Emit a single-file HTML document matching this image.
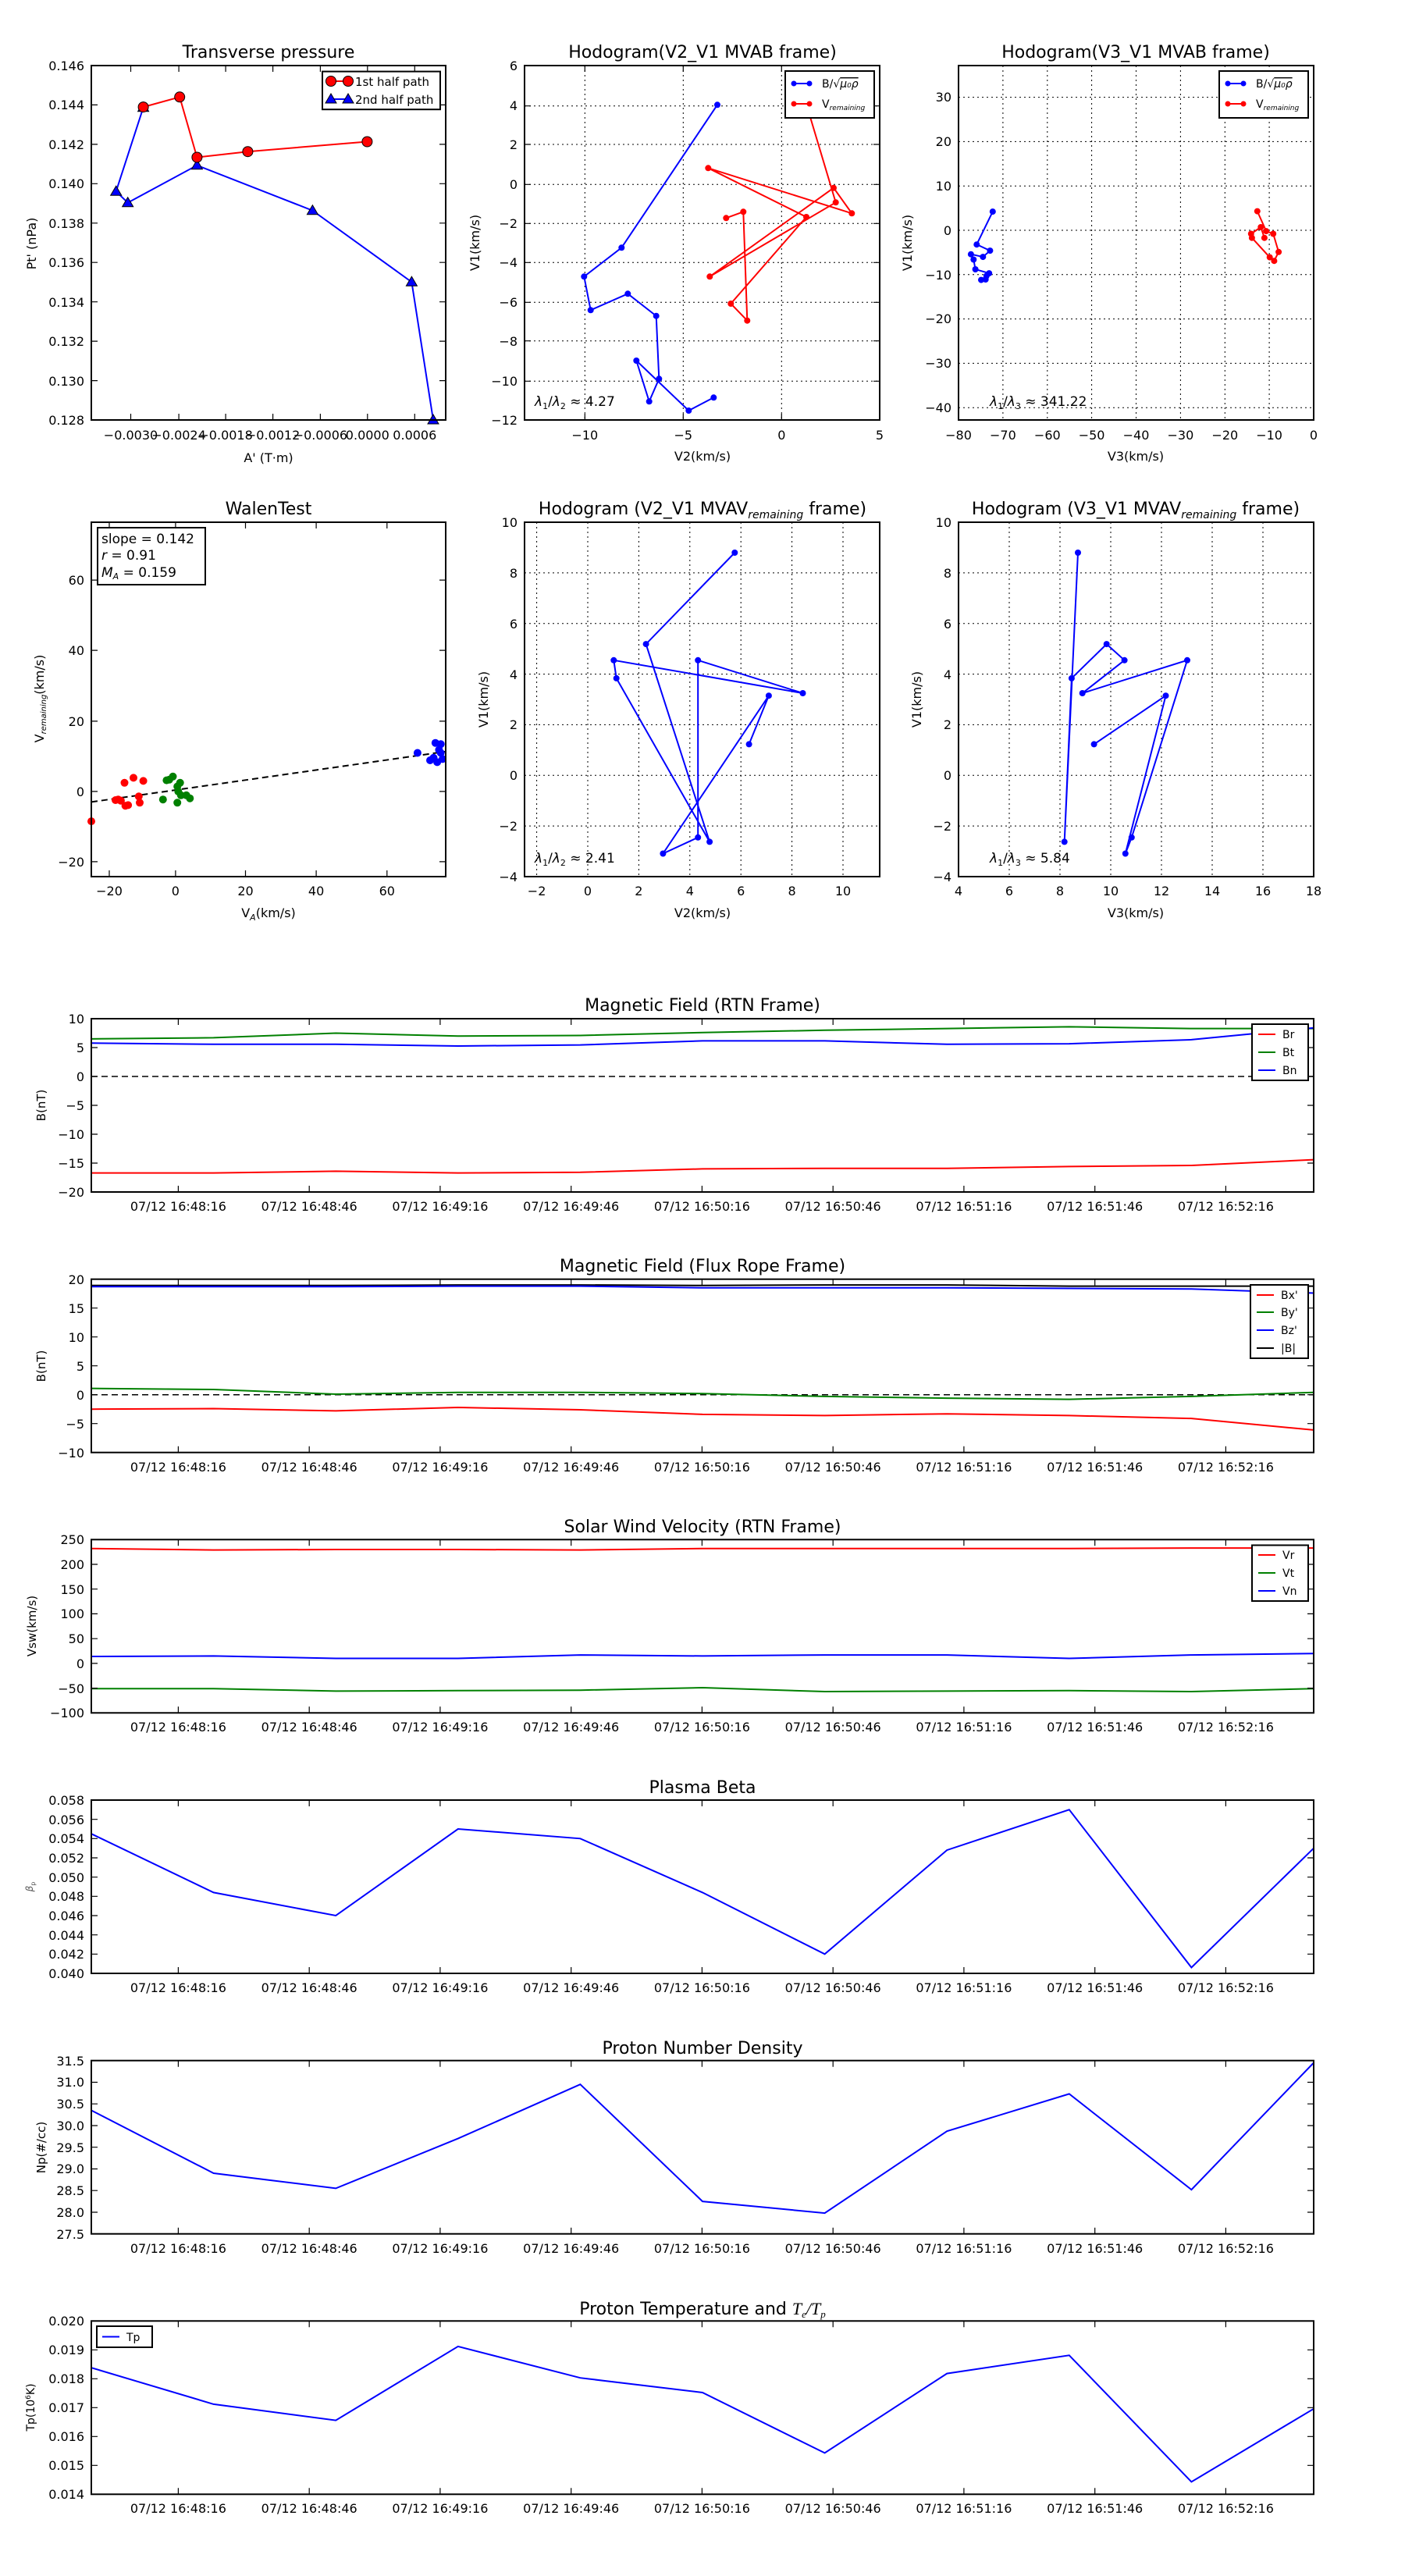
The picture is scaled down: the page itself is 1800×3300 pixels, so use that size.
<!DOCTYPE html>
<html><head><meta charset="utf-8"><style>
html,body{margin:0;padding:0;background:#fff}
svg{display:block}
text{font-family:"DejaVu Sans","Liberation Sans",sans-serif;fill:#000}
.t{font-size:22px;text-anchor:middle}
.k{font-size:16px}
.km{font-size:16px;text-anchor:middle}
.ke{font-size:16px;text-anchor:end}
.tl{font-size:16px;text-anchor:middle}
.ax{fill:none;stroke:#000;stroke-width:2}
.g{stroke:#000;stroke-width:1;stroke-dasharray:2,4;fill:none}
.tk{stroke:#000;stroke-width:1.2}
.ln{fill:none;stroke-width:2}
</style></head><body>
<svg width="1800" height="3300" viewBox="0 0 1800 3300" xmlns="http://www.w3.org/2000/svg">
<rect width="1800" height="3300" fill="#fff"/>

<text class="t" x="344" y="74">Transverse pressure</text>
<g class="tk">
<path d="M117 84.0h8M571 84.0h-8M117 134.4h8M571 134.4h-8M117 184.9h8M571 184.9h-8M117 235.3h8M571 235.3h-8M117 285.8h8M571 285.8h-8M117 336.2h8M571 336.2h-8M117 386.7h8M571 386.7h-8M117 437.1h8M571 437.1h-8M117 487.6h8M571 487.6h-8M117 538h8M571 538h-8"/>
<path d="M167.5 538v-8M167.5 84v8M229.1 538v-8M229.1 84v8M289.1 538v-8M289.1 84v8M349.6 538v-8M349.6 84v8M410.4 538v-8M410.4 84v8M470.8 538v-8M470.8 84v8M531.3 538v-8M531.3 84v8"/>
</g>
<g class="ke">
<text x="108" y="90">0.146</text><text x="108" y="140">0.144</text><text x="108" y="191">0.142</text><text x="108" y="241">0.140</text><text x="108" y="292">0.138</text><text x="108" y="342">0.136</text><text x="108" y="393">0.134</text><text x="108" y="443">0.132</text><text x="108" y="494">0.130</text><text x="108" y="544">0.128</text>
</g>
<g class="km">
<text x="167.5" y="563">−0.0030</text><text x="229.1" y="563">−0.0024</text><text x="289.1" y="563">−0.0018</text><text x="349.6" y="563">−0.0012</text><text x="410.4" y="563">−0.0006</text><text x="470.8" y="563">0.0000</text><text x="531.3" y="563">0.0006</text>
</g>
<text class="km" x="344" y="592">A' (T·m)</text>
<text class="km" transform="translate(46,312) rotate(-90)">Pt' (nPa)</text>
<polyline class="ln" stroke="#0000ff" points="183.6,137.7 148.7,245.2 163.7,259.7 252.4,211.8 400.4,269.7 527.4,361.3 555,538"/>
<polyline class="ln" stroke="#ff0000" points="183.6,137.1 230.2,124.3 252.4,201.5 317.4,194.2 470.4,181.5"/>
<g fill="#0000ff" stroke="#000" stroke-width="1">
<path d="M183.6,130.7l7,12h-14z"/><path d="M148.7,238.2l7,12h-14z"/><path d="M163.7,252.7l7,12h-14z"/><path d="M252.4,204.8l7,12h-14z"/><path d="M400.4,262.7l7,12h-14z"/><path d="M527.4,354.3l7,12h-14z"/><path d="M555,531l7,12h-14z"/>
</g>
<g fill="#ff0000" stroke="#000" stroke-width="1">
<circle cx="183.6" cy="137.1" r="6.5"/><circle cx="230.2" cy="124.3" r="6.5"/><circle cx="252.4" cy="201.5" r="6.5"/><circle cx="317.4" cy="194.2" r="6.5"/><circle cx="470.4" cy="181.5" r="6.5"/>
</g>
<rect x="117" y="84" width="454" height="454" class="ax"/>
<rect x="413" y="91.6" width="151" height="48.6" fill="#fff" stroke="#000" stroke-width="2"/>
<line x1="424" y1="104" x2="446" y2="104" stroke="#ff0000" stroke-width="2"/>
<circle cx="424" cy="104" r="6.5" fill="#f00" stroke="#000"/><circle cx="446" cy="104" r="6.5" fill="#f00" stroke="#000"/>
<text class="k" x="455" y="110" style="font-size:15px">1st half path</text>
<line x1="424" y1="127" x2="446" y2="127" stroke="#0000ff" stroke-width="2"/>
<path d="M424,120l7,12h-14z" fill="#00f" stroke="#000"/><path d="M446,120l7,12h-14z" fill="#00f" stroke="#000"/>
<text class="k" x="455" y="133" style="font-size:15px">2nd half path</text>

<text class="t" x="900" y="74">Hodogram(V2_V1 MVAB frame)</text>
<g class="g">
<path d="M749.3 84V538M875.3 84V538M1001.3 84V538"/>
<path d="M672 135.7H1127M672 185H1127M672 236.3H1127M672 286.3H1127M672 336.3H1127M672 387.3H1127M672 436.7H1127M672 488.3H1127"/>
</g>
<g class="ke">
<text x="663" y="90">6</text><text x="663" y="141">4</text><text x="663" y="191">2</text><text x="663" y="242">0</text><text x="663" y="292">−2</text><text x="663" y="342">−4</text><text x="663" y="393">−6</text><text x="663" y="443">−8</text><text x="663" y="494">−10</text><text x="663" y="544">−12</text>
</g>
<g class="km"><text x="749.3" y="563">−10</text><text x="875.3" y="563">−5</text><text x="1001.3" y="563">0</text><text x="1127" y="563">5</text></g>
<text class="km" x="900" y="590">V2(km/s)</text>
<text class="km" transform="translate(614,311) rotate(-90)">V1(km/s)</text>
<polyline class="ln" stroke="#0000ff" points="919,134.3 796.3,317.3 748.3,354.3 756.7,397.3 804.3,376.3 840.7,404.7 844.3,485.3 831.7,514.3 815.3,462 882.3,526 914.3,509.3"/>
<g fill="#0000ff"><circle cx="919" cy="134.3" r="4"/><circle cx="796.3" cy="317.3" r="4"/><circle cx="748.3" cy="354.3" r="4"/><circle cx="756.7" cy="397.3" r="4"/><circle cx="804.3" cy="376.3" r="4"/><circle cx="840.7" cy="404.7" r="4"/><circle cx="844.3" cy="485.3" r="4"/><circle cx="831.7" cy="514.3" r="4"/><circle cx="815.3" cy="462" r="4"/><circle cx="882.3" cy="526" r="4"/><circle cx="914.3" cy="509.3" r="4"/></g>
<polyline class="ln" stroke="#ff0000" points="1035,140 1070.7,259.3 909.3,354.3 1068,240.7 1091.3,273.3 907.3,215.3 1033,278 936.3,389 957.3,410.7 952.3,271.3 930.3,279.3"/>
<g fill="#ff0000"><circle cx="1070.7" cy="259.3" r="4"/><circle cx="909.3" cy="354.3" r="4"/><circle cx="1068" cy="240.7" r="4"/><circle cx="1091.3" cy="273.3" r="4"/><circle cx="907.3" cy="215.3" r="4"/><circle cx="1033" cy="278" r="4"/><circle cx="936.3" cy="389" r="4"/><circle cx="957.3" cy="410.7" r="4"/><circle cx="952.3" cy="271.3" r="4"/><circle cx="930.3" cy="279.3" r="4"/></g>
<g class="tk"><path d="M749.3 538v-8M749.3 84v8M875.3 538v-8M875.3 84v8M1001.3 538v-8M1001.3 84v8M672 135.7h8M1127 135.7h-8M672 185h8M1127 185h-8M672 236.3h8M1127 236.3h-8M672 286.3h8M1127 286.3h-8M672 336.3h8M1127 336.3h-8M672 387.3h8M1127 387.3h-8M672 436.7h8M1127 436.7h-8M672 488.3h8M1127 488.3h-8"/></g>
<rect x="672" y="84" width="455" height="454" class="ax"/>
<rect x="1006" y="91" width="114" height="60" fill="#fff" stroke="#000" stroke-width="2"/>
<line x1="1017" y1="107" x2="1037" y2="107" stroke="#00f" stroke-width="2"/><circle cx="1017" cy="107" r="3.5" fill="#00f"/><circle cx="1037" cy="107" r="3.5" fill="#00f"/>
<text x="1053" y="112" style="font-size:14px">B/√<tspan font-style="italic" text-decoration="overline">μ₀ρ</tspan></text>
<line x1="1017" y1="133" x2="1037" y2="133" stroke="#f00" stroke-width="2"/><circle cx="1017" cy="133" r="3.5" fill="#f00"/><circle cx="1037" cy="133" r="3.5" fill="#f00"/>
<text x="1053" y="138" style="font-size:14px">V<tspan font-size="9" font-style="italic" dy="3">remaining</tspan></text>
<text x="685" y="520" style="font-size:17px"><tspan font-style="italic">λ</tspan><tspan font-size="11" dy="4">1</tspan><tspan dy="-4">/</tspan><tspan font-style="italic">λ</tspan><tspan font-size="11" dy="4">2</tspan><tspan dy="-4"> ≈ 4.27</tspan></text>

<text class="t" x="1455" y="74">Hodogram(V3_V1 MVAB frame)</text>
<g class="g">
<path d="M1284.9 84V538M1341.8 84V538M1398.6 84V538M1455.5 84V538M1512.4 84V538M1569.3 84V538M1626.1 84V538"/>
<path d="M1228 124.6H1683M1228 181.4H1683M1228 238.2H1683M1228 295H1683M1228 351.8H1683M1228 408.6H1683M1228 465.4H1683M1228 522.2H1683"/>
</g>
<g class="ke">
<text x="1219" y="130">30</text><text x="1219" y="187">20</text><text x="1219" y="244">10</text><text x="1219" y="301">0</text><text x="1219" y="358">−10</text><text x="1219" y="414">−20</text><text x="1219" y="471">−30</text><text x="1219" y="528">−40</text>
</g>
<g class="km"><text x="1228" y="563">−80</text><text x="1284.9" y="563">−70</text><text x="1341.8" y="563">−60</text><text x="1398.6" y="563">−50</text><text x="1455.5" y="563">−40</text><text x="1512.4" y="563">−30</text><text x="1569.3" y="563">−20</text><text x="1626.1" y="563">−10</text><text x="1683" y="563">0</text></g>
<text class="km" x="1455" y="590">V3(km/s)</text>
<text class="km" transform="translate(1168,311) rotate(-90)">V1(km/s)</text>
<polyline class="ln" stroke="#0000ff" points="1271.8,271.1 1251.3,313.2 1268.4,321.1 1259.3,329.1 1243.9,325.7 1247.3,332.5 1249.6,345 1267.2,350.1 1262.7,358 1257,358.6 1263.8,353.5"/>
<g fill="#0000ff"><circle cx="1271.8" cy="271.1" r="4"/><circle cx="1251.3" cy="313.2" r="4"/><circle cx="1268.4" cy="321.1" r="4"/><circle cx="1259.3" cy="329.1" r="4"/><circle cx="1243.9" cy="325.7" r="4"/><circle cx="1247.3" cy="332.5" r="4"/><circle cx="1249.6" cy="345" r="4"/><circle cx="1267.2" cy="350.1" r="4"/><circle cx="1262.7" cy="358" r="4"/><circle cx="1257" cy="358.6" r="4"/><circle cx="1263.8" cy="353.5" r="4"/></g>
<polyline class="ln" stroke="#ff0000" points="1610.8,270.6 1622.2,296.1 1631.2,299.5 1638.1,322.8 1632.4,334.2 1626.7,329.6 1603.9,304.7 1602.8,299.5 1615.3,291 1619.9,304.7"/>
<g fill="#ff0000"><circle cx="1610.8" cy="270.6" r="4"/><circle cx="1622.2" cy="296.1" r="4"/><circle cx="1631.2" cy="299.5" r="4"/><circle cx="1638.1" cy="322.8" r="4"/><circle cx="1632.4" cy="334.2" r="4"/><circle cx="1626.7" cy="329.6" r="4"/><circle cx="1603.9" cy="304.7" r="4"/><circle cx="1602.8" cy="299.5" r="4"/><circle cx="1615.3" cy="291" r="4"/><circle cx="1619.9" cy="304.7" r="4"/></g>
<rect x="1228" y="84" width="455" height="454" class="ax"/>
<rect x="1562" y="91" width="114" height="60" fill="#fff" stroke="#000" stroke-width="2"/>
<line x1="1573" y1="107" x2="1593" y2="107" stroke="#00f" stroke-width="2"/><circle cx="1573" cy="107" r="3.5" fill="#00f"/><circle cx="1593" cy="107" r="3.5" fill="#00f"/>
<text x="1609" y="112" style="font-size:14px">B/√<tspan font-style="italic" text-decoration="overline">μ₀ρ</tspan></text>
<line x1="1573" y1="133" x2="1593" y2="133" stroke="#f00" stroke-width="2"/><circle cx="1573" cy="133" r="3.5" fill="#f00"/><circle cx="1593" cy="133" r="3.5" fill="#f00"/>
<text x="1609" y="138" style="font-size:14px">V<tspan font-size="9" font-style="italic" dy="3">remaining</tspan></text>
<text x="1268" y="520" style="font-size:17px"><tspan font-style="italic">λ</tspan><tspan font-size="11" dy="4">1</tspan><tspan dy="-4">/</tspan><tspan font-style="italic">λ</tspan><tspan font-size="11" dy="4">3</tspan><tspan dy="-4"> ≈ 341.22</tspan></text>

<text class="t" x="344" y="659">WalenTest</text>
<g class="tk"><path d="M140 1123v-8M140 669v8M224.9 1123v-8M224.9 669v8M314.5 1123v-8M314.5 669v8M405.1 1123v-8M405.1 669v8M495.8 1123v-8M495.8 669v8M117 743.1h8M571 743.1h-8M117 833.1h8M571 833.1h-8M117 923.9h8M571 923.9h-8M117 1013.9h8M571 1013.9h-8M117 1103.9h8M571 1103.9h-8"/></g>
<g class="ke"><text x="108" y="749">60</text><text x="108" y="839">40</text><text x="108" y="930">20</text><text x="108" y="1020">0</text><text x="108" y="1110">−20</text></g>
<g class="km"><text x="140" y="1147">−20</text><text x="224.9" y="1147">0</text><text x="314.5" y="1147">20</text><text x="405.1" y="1147">40</text><text x="495.8" y="1147">60</text></g>
<text class="km" x="344" y="1175">V<tspan font-size="11" font-style="italic" dy="4">A</tspan><tspan dy="-4">(km/s)</tspan></text>
<text class="km" transform="translate(56,895) rotate(-90)">V<tspan font-size="10" font-style="italic" dy="3">remaining</tspan><tspan dy="-3">(km/s)</tspan></text>
<line x1="117" y1="1027.4" x2="570.5" y2="962.9" stroke="#000" stroke-width="2" stroke-dasharray="8,5"/>
<g fill="#ff0000"><circle cx="117" cy="1052.1" r="5"/><circle cx="148" cy="1025" r="5"/><circle cx="154.9" cy="1025.8" r="5"/><circle cx="160.6" cy="1032.2" r="5"/><circle cx="164.1" cy="1031.4" r="5"/><circle cx="159.5" cy="1002.8" r="5"/><circle cx="171" cy="996.4" r="5"/><circle cx="183.6" cy="1000.4" r="5"/><circle cx="177.8" cy="1020.3" r="5"/><circle cx="179" cy="1028.3" r="5"/><circle cx="151.4" cy="1024.2" r="5"/></g>
<g fill="#008000"><circle cx="208.8" cy="1024.2" r="5"/><circle cx="213.4" cy="999.6" r="5"/><circle cx="216.9" cy="998.8" r="5"/><circle cx="221.5" cy="994.8" r="5"/><circle cx="227.2" cy="1007.5" r="5"/><circle cx="230.7" cy="1002.8" r="5"/><circle cx="228.4" cy="1014" r="5"/><circle cx="231.8" cy="1018.8" r="5"/><circle cx="238.7" cy="1018.8" r="5"/><circle cx="243.3" cy="1022.7" r="5"/><circle cx="227.2" cy="1028.3" r="5"/></g>
<g fill="#0000ff"><circle cx="534.9" cy="964.5" r="5"/><circle cx="555.5" cy="970.8" r="5"/><circle cx="557.8" cy="951.7" r="5"/><circle cx="564.7" cy="953.3" r="5"/><circle cx="562.4" cy="960.5" r="5"/><circle cx="560.1" cy="976.4" r="5"/><circle cx="567" cy="972.4" r="5"/><circle cx="564.7" cy="964.5" r="5"/><circle cx="551" cy="974" r="5"/></g>
<rect x="117" y="669" width="454" height="454" class="ax"/>
<rect x="125" y="676" width="138" height="73" fill="#fff" stroke="#000" stroke-width="2"/>
<text x="130" y="696" style="font-size:17px">slope = 0.142</text>
<text x="130" y="717" style="font-size:17px"><tspan font-style="italic">r</tspan> = 0.91</text>
<text x="130" y="739" style="font-size:17px"><tspan font-style="italic">M</tspan><tspan font-size="11" font-style="italic" dy="3">A</tspan><tspan dy="-3"> = 0.159</tspan></text>

<text class="t" x="900" y="659">Hodogram (V2_V1 MVAV<tspan font-size="14" font-style="italic" dy="5">remaining</tspan><tspan dy="-5"> frame)</tspan></text>
<g class="g">
<path d="M687.6 669V1123M753 669V1123M818.4 669V1123M883.8 669V1123M949.2 669V1123M1014.6 669V1123M1080 669V1123"/>
<path d="M672 733.9H1127M672 798.7H1127M672 863.6H1127M672 928.4H1127M672 993.3H1127M672 1058.1H1127"/>
</g>
<g class="ke"><text x="663" y="675">10</text><text x="663" y="740">8</text><text x="663" y="805">6</text><text x="663" y="870">4</text><text x="663" y="934">2</text><text x="663" y="999">0</text><text x="663" y="1064">−2</text><text x="663" y="1129">−4</text></g>
<g class="km"><text x="687.6" y="1147">−2</text><text x="753" y="1147">0</text><text x="818.4" y="1147">2</text><text x="883.8" y="1147">4</text><text x="949.2" y="1147">6</text><text x="1014.6" y="1147">8</text><text x="1080" y="1147">10</text></g>
<text class="km" x="900" y="1175">V2(km/s)</text>
<text class="km" transform="translate(625,896) rotate(-90)">V1(km/s)</text>
<polyline class="ln" stroke="#0000ff" points="941.3,708 827.6,825.1 909.1,1078.4 789.7,868.9 786.3,845.8 1028.5,888 894.2,845.8 894.2,1072.8 849.4,1093.5 984.9,891.2 959.6,953.4"/>
<g fill="#0000ff"><circle cx="941.3" cy="708" r="4"/><circle cx="827.6" cy="825.1" r="4"/><circle cx="909.1" cy="1078.4" r="4"/><circle cx="789.7" cy="868.9" r="4"/><circle cx="786.3" cy="845.8" r="4"/><circle cx="1028.5" cy="888" r="4"/><circle cx="894.2" cy="845.8" r="4"/><circle cx="894.2" cy="1072.8" r="4"/><circle cx="849.4" cy="1093.5" r="4"/><circle cx="984.9" cy="891.2" r="4"/><circle cx="959.6" cy="953.4" r="4"/></g>
<rect x="672" y="669" width="455" height="454" class="ax"/>
<text x="685" y="1105" style="font-size:17px"><tspan font-style="italic">λ</tspan><tspan font-size="11" dy="4">1</tspan><tspan dy="-4">/</tspan><tspan font-style="italic">λ</tspan><tspan font-size="11" dy="4">2</tspan><tspan dy="-4"> ≈ 2.41</tspan></text>

<text class="t" x="1455" y="659">Hodogram (V3_V1 MVAV<tspan font-size="14" font-style="italic" dy="5">remaining</tspan><tspan dy="-5"> frame)</tspan></text>
<g class="g">
<path d="M1293 669V1123M1358 669V1123M1423 669V1123M1488 669V1123M1553 669V1123M1618 669V1123"/>
<path d="M1228 733.9H1683M1228 798.7H1683M1228 863.6H1683M1228 928.4H1683M1228 993.3H1683M1228 1058.1H1683"/>
</g>
<g class="ke"><text x="1219" y="675">10</text><text x="1219" y="740">8</text><text x="1219" y="805">6</text><text x="1219" y="870">4</text><text x="1219" y="934">2</text><text x="1219" y="999">0</text><text x="1219" y="1064">−2</text><text x="1219" y="1129">−4</text></g>
<g class="km"><text x="1228" y="1147">4</text><text x="1293" y="1147">6</text><text x="1358" y="1147">8</text><text x="1423" y="1147">10</text><text x="1488" y="1147">12</text><text x="1553" y="1147">14</text><text x="1618" y="1147">16</text><text x="1683" y="1147">18</text></g>
<text class="km" x="1455" y="1175">V3(km/s)</text>
<text class="km" transform="translate(1180,896) rotate(-90)">V1(km/s)</text>
<polyline class="ln" stroke="#0000ff" points="1401.6,953.4 1493.5,891.2 1441.8,1093.5 1449.8,1072.8 1521,845.8 1386.7,888 1440.6,845.8 1417.7,825.1 1372.9,868.9 1363.7,1078.4 1381,708"/>
<g fill="#0000ff"><circle cx="1401.6" cy="953.4" r="4"/><circle cx="1493.5" cy="891.2" r="4"/><circle cx="1441.8" cy="1093.5" r="4"/><circle cx="1449.8" cy="1072.8" r="4"/><circle cx="1521" cy="845.8" r="4"/><circle cx="1386.7" cy="888" r="4"/><circle cx="1440.6" cy="845.8" r="4"/><circle cx="1417.7" cy="825.1" r="4"/><circle cx="1372.9" cy="868.9" r="4"/><circle cx="1363.7" cy="1078.4" r="4"/><circle cx="1381" cy="708" r="4"/></g>
<rect x="1228" y="669" width="455" height="454" class="ax"/>
<text x="1268" y="1105" style="font-size:17px"><tspan font-style="italic">λ</tspan><tspan font-size="11" dy="4">1</tspan><tspan dy="-4">/</tspan><tspan font-style="italic">λ</tspan><tspan font-size="11" dy="4">3</tspan><tspan dy="-4"> ≈ 5.84</tspan></text>

<text class="t" x="900" y="1295">Magnetic Field (RTN Frame)</text>
<line x1="117" y1="1379" x2="1683" y2="1379" stroke="#000" stroke-width="1.5" stroke-dasharray="8,5"/>
<polyline class="ln" stroke="#ff0000" points="117,1502.6 273.6,1502.6 430.2,1500.4 586.8,1502.6 743.4,1501.8 900,1497.4 1056.6,1496.7 1213.2,1496.7 1369.8,1494.4 1526.4,1493 1683,1485.6"/>
<polyline class="ln" stroke="#008000" points="117,1330.9 273.6,1329.4 430.2,1323.5 586.8,1327.2 743.4,1326.5 900,1322.8 1056.6,1319.8 1213.2,1317.6 1369.8,1315.4 1526.4,1317.6 1683,1317.6"/>
<polyline class="ln" stroke="#0000ff" points="117,1336.3 273.6,1337.8 430.2,1337.8 586.8,1340 743.4,1338.6 900,1333.4 1056.6,1333.4 1213.2,1337.8 1369.8,1337.1 1526.4,1331.9 1683,1316.8"/>
<g class="tk"><path d="M228.4 1527v-8M228.4 1305v8M396.2 1527v-8M396.2 1305v8M563.9 1527v-8M563.9 1305v8M731.7 1527v-8M731.7 1305v8M899.4 1527v-8M899.4 1305v8M1067.2 1527v-8M1067.2 1305v8M1234.9 1527v-8M1234.9 1305v8M1402.7 1527v-8M1402.7 1305v8M1570.4 1527v-8M1570.4 1305v8M117 1342h8M1683 1342h-8M117 1379h8M1683 1379h-8M117 1416h8M1683 1416h-8M117 1453h8M1683 1453h-8M117 1490h8M1683 1490h-8"/></g>
<rect x="117" y="1305" width="1566" height="222" class="ax"/>
<g class="ke"><text x="108" y="1311">10</text><text x="108" y="1348">5</text><text x="108" y="1385">0</text><text x="108" y="1422">−5</text><text x="108" y="1459">−10</text><text x="108" y="1496">−15</text><text x="108" y="1533">−20</text></g>
<g class="tl"><text x="228.4" y="1551">07/12 16:48:16</text><text x="396.2" y="1551">07/12 16:48:46</text><text x="563.9" y="1551">07/12 16:49:16</text><text x="731.7" y="1551">07/12 16:49:46</text><text x="899.4" y="1551">07/12 16:50:16</text><text x="1067.2" y="1551">07/12 16:50:46</text><text x="1234.9" y="1551">07/12 16:51:16</text><text x="1402.7" y="1551">07/12 16:51:46</text><text x="1570.4" y="1551">07/12 16:52:16</text></g>
<text class="km" style="font-size:15px" transform="translate(58,1416) rotate(-90)">B(nT)</text>
<rect x="1604" y="1312" width="72" height="72" fill="#fff" stroke="#000" stroke-width="2"/>
<line x1="1612" y1="1325" x2="1634" y2="1325" stroke="#f00" stroke-width="2"/><text x="1643" y="1330" style="font-size:14px">Br</text>
<line x1="1612" y1="1348" x2="1634" y2="1348" stroke="#008000" stroke-width="2"/><text x="1643" y="1353" style="font-size:14px">Bt</text>
<line x1="1612" y1="1371" x2="1634" y2="1371" stroke="#00f" stroke-width="2"/><text x="1643" y="1376" style="font-size:14px">Bn</text>

<text class="t" x="900" y="1629">Magnetic Field (Flux Rope Frame)</text>
<line x1="117" y1="1786.7" x2="1683" y2="1786.7" stroke="#000" stroke-width="1.5" stroke-dasharray="8,5"/>
<polyline class="ln" stroke="#000" points="117,1646.8 273.6,1646.8 430.2,1646.8 586.8,1646.1 743.4,1646.1 900,1646.8 1056.6,1646.1 1213.2,1646.1 1369.8,1647.6 1526.4,1647.6 1683,1647.6"/>
<polyline class="ln" stroke="#0000ff" points="117,1648.3 273.6,1648.3 430.2,1648.3 586.8,1647.6 743.4,1647.6 900,1649.8 1056.6,1649.8 1213.2,1649.8 1369.8,1650.5 1526.4,1651.3 1683,1656.5"/>
<polyline class="ln" stroke="#008000" points="117,1778.6 273.6,1780 430.2,1786 586.8,1783.7 743.4,1783.7 900,1785.2 1056.6,1788.9 1213.2,1791.1 1369.8,1792.6 1526.4,1788.9 1683,1783.7"/>
<polyline class="ln" stroke="#ff0000" points="117,1805.2 273.6,1804.5 430.2,1807.4 586.8,1803 743.4,1806 900,1811.9 1056.6,1813.4 1213.2,1811.2 1369.8,1813.4 1526.4,1817.1 1683,1831.9"/>
<g class="tk"><path d="M228.4 1860.7v-8M228.4 1638.7v8M396.2 1860.7v-8M396.2 1638.7v8M563.9 1860.7v-8M563.9 1638.7v8M731.7 1860.7v-8M731.7 1638.7v8M899.4 1860.7v-8M899.4 1638.7v8M1067.2 1860.7v-8M1067.2 1638.7v8M1234.9 1860.7v-8M1234.9 1638.7v8M1402.7 1860.7v-8M1402.7 1638.7v8M1570.4 1860.7v-8M1570.4 1638.7v8M117 1675.7h8M1683 1675.7h-8M117 1712.7h8M1683 1712.7h-8M117 1749.7h8M1683 1749.7h-8M117 1786.7h8M1683 1786.7h-8M117 1823.7h8M1683 1823.7h-8"/></g>
<rect x="117" y="1638.7" width="1566" height="222" class="ax"/>
<g class="ke"><text x="108" y="1645">20</text><text x="108" y="1682">15</text><text x="108" y="1719">10</text><text x="108" y="1756">5</text><text x="108" y="1793">0</text><text x="108" y="1830">−5</text><text x="108" y="1867">−10</text></g>
<g class="tl"><text x="228.4" y="1885">07/12 16:48:16</text><text x="396.2" y="1885">07/12 16:48:46</text><text x="563.9" y="1885">07/12 16:49:16</text><text x="731.7" y="1885">07/12 16:49:46</text><text x="899.4" y="1885">07/12 16:50:16</text><text x="1067.2" y="1885">07/12 16:50:46</text><text x="1234.9" y="1885">07/12 16:51:16</text><text x="1402.7" y="1885">07/12 16:51:46</text><text x="1570.4" y="1885">07/12 16:52:16</text></g>
<text class="km" style="font-size:15px" transform="translate(58,1750) rotate(-90)">B(nT)</text>
<rect x="1602" y="1646" width="74" height="94" fill="#fff" stroke="#000" stroke-width="2"/>
<line x1="1610" y1="1659" x2="1632" y2="1659" stroke="#f00" stroke-width="2"/><text x="1641" y="1664" style="font-size:14px">Bx'</text>
<line x1="1610" y1="1681" x2="1632" y2="1681" stroke="#008000" stroke-width="2"/><text x="1641" y="1686" style="font-size:14px">By'</text>
<line x1="1610" y1="1704" x2="1632" y2="1704" stroke="#00f" stroke-width="2"/><text x="1641" y="1709" style="font-size:14px">Bz'</text>
<line x1="1610" y1="1727" x2="1632" y2="1727" stroke="#000" stroke-width="2"/><text x="1641" y="1732" style="font-size:14px">|B|</text>

<text class="t" x="900" y="1963">Solar Wind Velocity (RTN Frame)</text>
<polyline class="ln" stroke="#ff0000" points="117,1983.7 273.6,1985.6 430.2,1985 586.8,1985 743.4,1985.6 900,1983.7 1056.6,1983.7 1213.2,1983.7 1369.8,1983.7 1526.4,1983.1 1683,1983.1"/>
<polyline class="ln" stroke="#0000ff" points="117,2122 273.6,2121.4 430.2,2124.5 586.8,2124.5 743.4,2120.1 900,2121.4 1056.6,2120.1 1213.2,2120.1 1369.8,2124.5 1526.4,2120.1 1683,2118.2"/>
<polyline class="ln" stroke="#008000" points="117,2163.2 273.6,2163.2 430.2,2166.4 586.8,2165.8 743.4,2165.2 900,2162 1056.6,2167 1213.2,2166.4 1369.8,2165.8 1526.4,2167 1683,2163.2"/>
<g class="tk"><path d="M228.4 2194.3v-8M228.4 1972.3v8M396.2 2194.3v-8M396.2 1972.3v8M563.9 2194.3v-8M563.9 1972.3v8M731.7 2194.3v-8M731.7 1972.3v8M899.4 2194.3v-8M899.4 1972.3v8M1067.2 2194.3v-8M1067.2 1972.3v8M1234.9 2194.3v-8M1234.9 1972.3v8M1402.7 2194.3v-8M1402.7 1972.3v8M1570.4 2194.3v-8M1570.4 1972.3v8M117 2004h8M1683 2004h-8M117 2035.7h8M1683 2035.7h-8M117 2067.4h8M1683 2067.4h-8M117 2099.2h8M1683 2099.2h-8M117 2130.9h8M1683 2130.9h-8M117 2162.6h8M1683 2162.6h-8"/></g>
<rect x="117" y="1972.3" width="1566" height="222" class="ax"/>
<g class="ke"><text x="108" y="1978">250</text><text x="108" y="2010">200</text><text x="108" y="2042">150</text><text x="108" y="2073">100</text><text x="108" y="2105">50</text><text x="108" y="2137">0</text><text x="108" y="2169">−50</text><text x="108" y="2200">−100</text></g>
<g class="tl"><text x="228.4" y="2218">07/12 16:48:16</text><text x="396.2" y="2218">07/12 16:48:46</text><text x="563.9" y="2218">07/12 16:49:16</text><text x="731.7" y="2218">07/12 16:49:46</text><text x="899.4" y="2218">07/12 16:50:16</text><text x="1067.2" y="2218">07/12 16:50:46</text><text x="1234.9" y="2218">07/12 16:51:16</text><text x="1402.7" y="2218">07/12 16:51:46</text><text x="1570.4" y="2218">07/12 16:52:16</text></g>
<text class="km" style="font-size:15px" transform="translate(46,2083) rotate(-90)">Vsw(km/s)</text>
<rect x="1604" y="1979.5" width="72" height="71.5" fill="#fff" stroke="#000" stroke-width="2"/>
<line x1="1612" y1="1992" x2="1634" y2="1992" stroke="#f00" stroke-width="2"/><text x="1643" y="1997" style="font-size:14px">Vr</text>
<line x1="1612" y1="2015" x2="1634" y2="2015" stroke="#008000" stroke-width="2"/><text x="1643" y="2020" style="font-size:14px">Vt</text>
<line x1="1612" y1="2038" x2="1634" y2="2038" stroke="#00f" stroke-width="2"/><text x="1643" y="2043" style="font-size:14px">Vn</text>

<text class="t" x="900" y="2297">Plasma Beta</text>
<polyline class="ln" stroke="#0000ff" points="117,2349.2 273.6,2424.4 430.2,2454 586.8,2343 743.4,2355.3 900,2424.4 1056.6,2503.3 1213.2,2370.1 1369.8,2318.3 1526.4,2520.5 1683,2367.7"/>
<g class="tk"><path d="M228.4 2528v-8M228.4 2306v8M396.2 2528v-8M396.2 2306v8M563.9 2528v-8M563.9 2306v8M731.7 2528v-8M731.7 2306v8M899.4 2528v-8M899.4 2306v8M1067.2 2528v-8M1067.2 2306v8M1234.9 2528v-8M1234.9 2306v8M1402.7 2528v-8M1402.7 2306v8M1570.4 2528v-8M1570.4 2306v8M117 2330.7h8M1683 2330.7h-8M117 2355.3h8M1683 2355.3h-8M117 2380h8M1683 2380h-8M117 2404.7h8M1683 2404.7h-8M117 2429.3h8M1683 2429.3h-8M117 2454h8M1683 2454h-8M117 2478.7h8M1683 2478.7h-8M117 2503.3h8M1683 2503.3h-8"/></g>
<rect x="117" y="2306" width="1566" height="222" class="ax"/>
<g class="ke"><text x="108" y="2312">0.058</text><text x="108" y="2337">0.056</text><text x="108" y="2361">0.054</text><text x="108" y="2386">0.052</text><text x="108" y="2411">0.050</text><text x="108" y="2435">0.048</text><text x="108" y="2460">0.046</text><text x="108" y="2485">0.044</text><text x="108" y="2509">0.042</text><text x="108" y="2534">0.040</text></g>
<g class="tl"><text x="228.4" y="2552">07/12 16:48:16</text><text x="396.2" y="2552">07/12 16:48:46</text><text x="563.9" y="2552">07/12 16:49:16</text><text x="731.7" y="2552">07/12 16:49:46</text><text x="899.4" y="2552">07/12 16:50:16</text><text x="1067.2" y="2552">07/12 16:50:46</text><text x="1234.9" y="2552">07/12 16:51:16</text><text x="1402.7" y="2552">07/12 16:51:46</text><text x="1570.4" y="2552">07/12 16:52:16</text></g>
<text class="km" style="font-size:12px;fill:#555" transform="translate(42,2417) rotate(-90)"><tspan font-style="italic">β</tspan><tspan font-size="8" dy="3">p</tspan></text>

<text class="t" x="900" y="2631">Proton Number Density</text>
<polyline class="ln" stroke="#0000ff" points="117,2703.5 273.6,2784 430.2,2803.4 586.8,2739.6 743.4,2670.2 900,2820.1 1056.6,2835.1 1213.2,2730.2 1369.8,2682.4 1526.4,2805.1 1683,2642.5"/>
<g class="tk"><path d="M228.4 2861.7v-8M228.4 2639.7v8M396.2 2861.7v-8M396.2 2639.7v8M563.9 2861.7v-8M563.9 2639.7v8M731.7 2861.7v-8M731.7 2639.7v8M899.4 2861.7v-8M899.4 2639.7v8M1067.2 2861.7v-8M1067.2 2639.7v8M1234.9 2861.7v-8M1234.9 2639.7v8M1402.7 2861.7v-8M1402.7 2639.7v8M1570.4 2861.7v-8M1570.4 2639.7v8M117 2667.5h8M1683 2667.5h-8M117 2695.2h8M1683 2695.2h-8M117 2723h8M1683 2723h-8M117 2750.7h8M1683 2750.7h-8M117 2778.5h8M1683 2778.5h-8M117 2806.2h8M1683 2806.2h-8M117 2834h8M1683 2834h-8"/></g>
<rect x="117" y="2639.7" width="1566" height="222" class="ax"/>
<g class="ke"><text x="108" y="2646">31.5</text><text x="108" y="2673">31.0</text><text x="108" y="2701">30.5</text><text x="108" y="2729">30.0</text><text x="108" y="2757">29.5</text><text x="108" y="2784">29.0</text><text x="108" y="2812">28.5</text><text x="108" y="2840">28.0</text><text x="108" y="2868">27.5</text></g>
<g class="tl"><text x="228.4" y="2886">07/12 16:48:16</text><text x="396.2" y="2886">07/12 16:48:46</text><text x="563.9" y="2886">07/12 16:49:16</text><text x="731.7" y="2886">07/12 16:49:46</text><text x="899.4" y="2886">07/12 16:50:16</text><text x="1067.2" y="2886">07/12 16:50:46</text><text x="1234.9" y="2886">07/12 16:51:16</text><text x="1402.7" y="2886">07/12 16:51:46</text><text x="1570.4" y="2886">07/12 16:52:16</text></g>
<text class="km" style="font-size:15px" transform="translate(58,2751) rotate(-90)">Np(#/cc)</text>

<text class="t" x="900" y="2965">Proton Temperature and <tspan font-style="italic" font-family="Liberation Serif, serif">T<tspan font-size="13" dy="4">e</tspan><tspan dy="-4">/T</tspan><tspan font-size="13" dy="4">p</tspan></tspan></text>
<polyline class="ln" stroke="#0000ff" points="117,3033.2 273.6,3079.9 430.2,3100.6 586.8,3005.9 743.4,3046.2 900,3065 1056.6,3142.4 1213.2,3040.6 1369.8,3017.3 1526.4,3179.4 1683,3085.8"/>
<g class="tk"><path d="M228.4 3195.3v-8M228.4 2973.3v8M396.2 3195.3v-8M396.2 2973.3v8M563.9 3195.3v-8M563.9 2973.3v8M731.7 3195.3v-8M731.7 2973.3v8M899.4 3195.3v-8M899.4 2973.3v8M1067.2 3195.3v-8M1067.2 2973.3v8M1234.9 3195.3v-8M1234.9 2973.3v8M1402.7 3195.3v-8M1402.7 2973.3v8M1570.4 3195.3v-8M1570.4 2973.3v8M117 3010.3h8M1683 3010.3h-8M117 3047.3h8M1683 3047.3h-8M117 3084.3h8M1683 3084.3h-8M117 3121.3h8M1683 3121.3h-8M117 3158.3h8M1683 3158.3h-8"/></g>
<rect x="117" y="2973.3" width="1566" height="222" class="ax"/>
<g class="ke"><text x="108" y="2979">0.020</text><text x="108" y="3016">0.019</text><text x="108" y="3053">0.018</text><text x="108" y="3090">0.017</text><text x="108" y="3127">0.016</text><text x="108" y="3164">0.015</text><text x="108" y="3201">0.014</text></g>
<g class="tl"><text x="228.4" y="3219">07/12 16:48:16</text><text x="396.2" y="3219">07/12 16:48:46</text><text x="563.9" y="3219">07/12 16:49:16</text><text x="731.7" y="3219">07/12 16:49:46</text><text x="899.4" y="3219">07/12 16:50:16</text><text x="1067.2" y="3219">07/12 16:50:46</text><text x="1234.9" y="3219">07/12 16:51:16</text><text x="1402.7" y="3219">07/12 16:51:46</text><text x="1570.4" y="3219">07/12 16:52:16</text></g>
<text class="km" style="font-size:14px" transform="translate(44,3084) rotate(-90)">Tp(10<tspan font-size="9" dy="-5">6</tspan><tspan dy="5">K)</tspan></text>
<rect x="124" y="2980" width="71" height="27" fill="#fff" stroke="#000" stroke-width="2"/>
<line x1="131" y1="2993.5" x2="153" y2="2993.5" stroke="#00f" stroke-width="2"/><text x="162" y="2999" style="font-size:14px">Tp</text>
</svg>
</body></html>
